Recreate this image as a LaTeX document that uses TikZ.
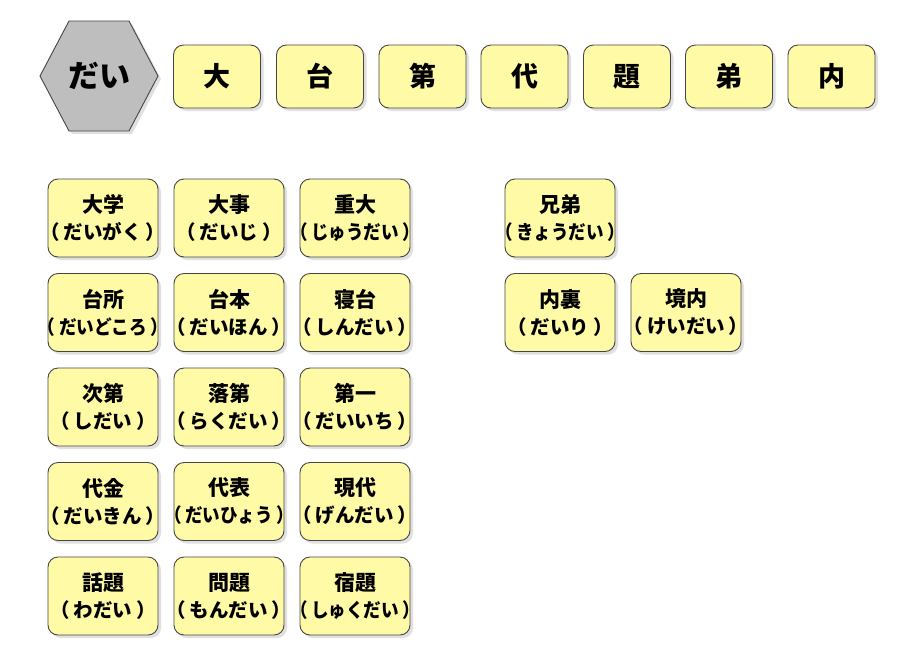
\documentclass[tikz,border=0pt]{standalone}
\usepackage{fontspec}
\usepackage{graphicx}
\setmainfont{Noto Sans CJK JP}
\usetikzlibrary{shapes.geometric,shadows}
\definecolor{boxfill}{HTML}{FFFAA5}
\definecolor{boxline}{HTML}{454545}
\definecolor{hexfill}{HTML}{BEBEBE}
\tikzset{
  x=1pt,y=-1pt,
  shad/.style={drop shadow={shadow xshift=3pt,shadow yshift=-3pt,opacity=0.2,fill=black!60}},
  kanjibox/.style={shad,draw=boxline,line width=0.9pt,fill=boxfill,rounded corners=10pt,
    minimum width=87pt,minimum height=63pt,inner sep=0pt,font=\fontsize{27}{30}\selectfont\bfseries},
  wordbox/.style={shad,draw=boxline,line width=0.9pt,fill=boxfill,rounded corners=10pt,
    minimum width=110pt,minimum height=78pt,inner sep=0pt,align=center,
    font=\fontsize{21}{27}\selectfont\bfseries}
}
\newsavebox{\readbox}
\newcommand{\readtext}[1]{%
  \sbox{\readbox}{\fontsize{19.5}{27}\selectfont\bfseries （\kern4pt #1\kern4pt ）}%
  \ifdim\wd\readbox>130pt
    \resizebox{130pt}{\height}{\usebox{\readbox}}%
  \else
    \usebox{\readbox}%
  \fi}
\newcommand{\wordtext}[2]{\makebox[0pt]{#1}\\\makebox[0pt]{\readtext{#2}}}
\begin{document}
\begin{tikzpicture}
\useasboundingbox (0,0) rectangle (906,657);
\fill[white] (0,0) rectangle (906,657);
% hexagon
\coordinate (hc) at (99,76);
\fill[black!60,opacity=0.2] (72,24) -- (132,24) -- (161,79) -- (132,134) -- (72,134) -- (43,79) -- cycle;
\draw[boxline,line width=0.9pt,fill=hexfill] (69,21) -- (129,21) -- (158,76) -- (129,131) -- (69,131) -- (40,76) -- cycle;
\node[font=\fontsize{31}{34}\selectfont\bfseries] (dai) at (hc) {だい};
% top row
\node[kanjibox] (k1) at (217,76.5) {大};
\node[kanjibox] (k2) at (320,76.5) {台};
\node[kanjibox] (k3) at (422.5,76.5) {第};
\node[kanjibox] (k4) at (524.5,76.5) {代};
\node[kanjibox] (k5) at (627,76.5) {題};
\node[kanjibox] (k6) at (729,76.5) {弟};
\node[kanjibox] (k7) at (831.5,76.5) {内};
% grid
\node[wordbox] (w11) at (103,218) {\wordtext{大学}{だいがく}};
\node[wordbox] (w12) at (229,218) {\wordtext{大事}{だいじ}};
\node[wordbox] (w13) at (355,218) {\wordtext{重大}{じゅうだい}};
\node[wordbox] (w21) at (103,312.5) {\wordtext{台所}{だいどころ}};
\node[wordbox] (w22) at (229,312.5) {\wordtext{台本}{だいほん}};
\node[wordbox] (w23) at (355,312.5) {\wordtext{寝台}{しんだい}};
\node[wordbox] (w31) at (103,407) {\wordtext{次第}{しだい}};
\node[wordbox] (w32) at (229,407) {\wordtext{落第}{らくだい}};
\node[wordbox] (w33) at (355,407) {\wordtext{第一}{だいいち}};
\node[wordbox] (w41) at (103,501.5) {\wordtext{代金}{だいきん}};
\node[wordbox] (w42) at (229,501.5) {\wordtext{代表}{だいひょう}};
\node[wordbox] (w43) at (355,501.5) {\wordtext{現代}{げんだい}};
\node[wordbox] (w51) at (103,596) {\wordtext{話題}{わだい}};
\node[wordbox] (w52) at (229,596) {\wordtext{問題}{もんだい}};
\node[wordbox] (w53) at (355,596) {\wordtext{宿題}{しゅくだい}};
\node[wordbox] (w61) at (560,218) {\wordtext{兄弟}{きょうだい}};
\node[wordbox] (w71) at (560,312.5) {\wordtext{内裏}{だいり}};
\node[wordbox] (w72) at (686,312.5) {\wordtext{境内}{けいだい}};
\end{tikzpicture}
\end{document}
